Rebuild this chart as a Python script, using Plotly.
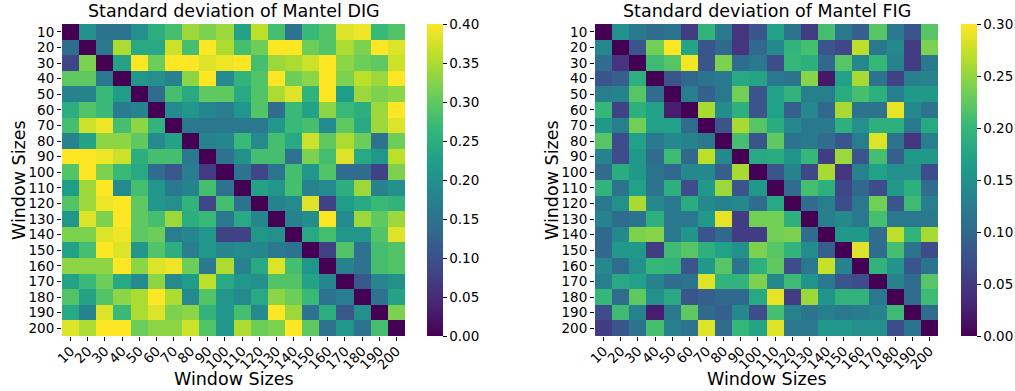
import plotly.graph_objects as go

window_sizes = [str(v) for v in range(10, 201, 10)]

dig_std = [
    [0, .20, .15, .15, .20, .25, .28, .34, .32, .34, .23, .36, .28, .15, .27, .29, .38, .39, .27, .29],
    [.14, 0, .16, .35, .24, .24, .37, .28, .40, .35, .28, .31, .40, .40, .31, .29, .35, .32, .40, .38],
    [.085, .32, 0, .23, .40, .31, .40, .40, .38, .39, .40, .28, .34, .35, .37, .40, .33, .31, .30, .37],
    [.30, .30, .16, 0, .21, .20, .18, .33, .40, .19, .26, .29, .40, .31, .33, .40, .32, .36, .34, .40],
    [.18, .18, .27, .22, 0, .14, .28, .24, .30, .30, .24, .29, .35, .38, .26, .40, .22, .34, .32, .33],
    [.25, .29, .27, .165, .18, 0, .19, .21, .185, .17, .21, .29, .14, .27, .23, .33, .27, .25, .34, .40],
    [.28, .37, .39, .28, .33, .26, 0, .16, .16, .16, .16, .16, .21, .27, .28, .19, .30, .24, .34, .38],
    [.18, .23, .33, .33, .30, .19, .23, 0, .18, .185, .27, .19, .28, .24, .37, .30, .35, .31, .15, .31],
    [.40, .40, .39, .37, .25, .28, .28, .16, 0, .15, .20, .28, .28, .15, .32, .28, .38, .24, .21, .36],
    [.29, .40, .32, .27, .24, .14, .11, .17, .07, 0, .15, .085, .155, .28, .21, .29, .14, .14, .08, .32],
    [.22, .34, .40, .19, .28, .21, .16, .18, .28, .15, 0, .23, .21, .28, .18, .19, .25, .34, .18, .20],
    [.29, .34, .39, .40, .30, .21, .20, .26, .085, .28, .15, 0, .18, .19, .38, .08, .22, .24, .27, .26],
    [.21, .38, .32, .40, .30, .28, .34, .25, .27, .16, .24, .185, 0, .18, .195, .40, .19, .34, .30, .34],
    [.32, .32, .38, .39, .30, .31, .17, .185, .21, .08, .08, .21, .20, 0, .24, .28, .21, .21, .29, .38],
    [.23, .28, .40, .38, .21, .29, .25, .17, .21, .185, .19, .185, .16, .15, 0, .08, .29, .15, .28, .29],
    [.33, .33, .33, .40, .33, .38, .39, .31, .16, .35, .18, .24, .38, .28, .21, 0, .18, .15, .28, .29],
    [.23, .27, .31, .24, .19, .33, .19, .22, .36, .24, .21, .20, .29, .29, .23, .185, 0, .11, .185, .20],
    [.29, .23, .29, .33, .35, .40, .35, .19, .29, .21, .19, .24, .33, .31, .27, .15, .17, 0, .15, .23],
    [.24, .18, .38, .27, .35, .38, .32, .33, .26, .21, .28, .19, .40, .34, .15, .25, .11, .20, 0, .32],
    [.38, .35, .40, .40, .31, .33, .33, .37, .29, .21, .35, .31, .32, .40, .30, .15, .21, .15, .28, 0],
]

fig_std = [
    [0, .15, .12, .105, .115, .055, .195, .12, .045, .08, .17, .115, .055, .21, .12, .09, .22, .12, .08, .22],
    [.14, 0, .08, .235, .30, .175, .08, .10, .045, .10, .14, .195, .21, .08, .065, .27, .12, .14, .055, .24],
    [.105, .045, 0, .205, .22, .295, .08, .24, .105, .12, .07, .20, .19, .10, .22, .14, .20, .135, .055, .12],
    [.08, .09, .19, 0, .08, .10, .115, .12, .18, .175, .12, .115, .245, .02, .17, .26, .115, .06, .13, .135],
    [.13, .135, .22, .105, 0, .13, .09, .12, .235, .08, .17, .195, .13, .13, .185, .21, .19, .13, .16, .16],
    [.20, .06, .19, .17, .025, 0, .26, .145, .19, .08, .17, .09, .14, .10, .26, .115, .115, .29, .14, .115],
    [.16, .13, .235, .17, .17, .105, 0, .08, .26, .22, .185, .14, .12, .12, .19, .15, .19, .19, .12, .18],
    [.22, .07, .17, .12, .14, .135, .12, 0, .21, .08, .225, .115, .12, .105, .08, .13, .285, .115, .045, .13],
    [.135, .07, .16, .105, .205, .10, .27, .14, 0, .18, .185, .155, .20, .055, .255, .08, .21, .09, .16, .16],
    [.105, .185, .16, .115, .10, .14, .14, .09, .26, 0, .08, .135, .065, .26, .045, .135, .17, .15, .15, .07],
    [.195, .115, .17, .115, .19, .07, .16, .255, .08, .16, 0, .105, .21, .19, .065, .10, .07, .16, .19, .105],
    [.12, .15, .26, .14, .12, .185, .14, .135, .14, .105, .18, 0, .105, .13, .07, .12, .235, .08, .205, .13],
    [.135, .105, .115, .19, .12, .12, .16, .29, .055, .235, .235, .19, 0, .13, .14, .12, .21, .12, .12, .12],
    [.10, .14, .24, .245, .12, .155, .08, .10, .055, .055, .235, .24, .105, 0, .16, .16, .105, .27, .195, .26],
    [.10, .16, .16, .055, .205, .22, .19, .17, .15, .24, .22, .195, .145, .09, 0, .285, .105, .21, .115, .07],
    [.14, .105, .15, .20, .195, .08, .16, .22, .115, .19, .225, .07, .12, .275, .135, 0, .195, .155, .08, .115],
    [.13, .18, .17, .135, .105, .115, .285, .195, .195, .24, .14, .205, .155, .12, .08, .07, 0, .135, .105, .22],
    [.20, .105, .225, .15, .18, .08, .09, .10, .10, .18, .29, .055, .255, .155, .195, .195, .12, 0, .105, .205],
    [.07, .205, .135, .025, .12, .225, .10, .09, .14, .07, .21, .135, .115, .13, .12, .125, .135, .205, 0, .105],
    [.055, .08, .115, .21, .13, .115, .285, .105, .20, .175, .285, .12, .12, .16, .16, .15, .15, .07, .115, 0],
]

titles = ["Standard deviation of Mantel DIG", "Standard deviation of Mantel FIG"]
zmaxes = [0.40, 0.30]
axis_title = "Window Sizes"

W, H = 1015, 391
FONT = "DejaVu Sans"

# pixel geometry
panels = [
    dict(x0=62, x1=405, cb=427),
    dict(x0=595, x1=938, cb=961),
]
py0, py1 = 24, 336

fig = go.Figure()
data_sets = [dig_std, fig_std]

for i, (p, z, zmax) in enumerate(zip(panels, data_sets, zmaxes)):
    xa = "x" if i == 0 else "x2"
    ya = "y" if i == 0 else "y2"
    ticks = [round(k * 0.05, 2) for k in range(int(round(zmax / 0.05)) + 1)]
    fig.add_trace(go.Heatmap(
        z=z, x=window_sizes, y=window_sizes,
        colorscale="Viridis", zmin=0, zmax=zmax,
        xaxis=xa, yaxis=ya,
        colorbar=dict(
            x=p["cb"] / W, xanchor="left", xref="paper", xpad=0, ypad=0,
            y=1 - (py0 + py1) / 2 / H, yanchor="middle",
            len=py1 - py0, lenmode="pixels", thickness=16, thicknessmode="pixels",
            outlinewidth=0, ticks="outside", ticklen=4, tickcolor="black",
            tickvals=ticks, tickformat=".2f",
            tickfont=dict(family=FONT, size=13.5, color="black"),
        ),
    ))

axis_common = dict(
    type="category", showgrid=False, zeroline=False, ticks="outside",
    ticklen=4, tickcolor="black", showline=False, automargin=False,
    tickmode="array", tickvals=window_sizes, ticktext=window_sizes,
    tickfont=dict(family=FONT, size=13.5, color="black"),
)
ydom = [1 - py1 / H, 1 - py0 / H]
fig.update_layout(
    width=W, height=H, margin=dict(l=0, r=0, t=0, b=0, autoexpand=False),
    paper_bgcolor="white", plot_bgcolor="white",
    xaxis=dict(domain=[panels[0]["x0"] / W, panels[0]["x1"] / W], anchor="y",
               tickangle=-45, ticklabelstandoff=-3, **axis_common),
    yaxis=dict(domain=ydom, anchor="x", autorange="reversed", **axis_common),
    xaxis2=dict(domain=[panels[1]["x0"] / W, panels[1]["x1"] / W], anchor="y2",
                tickangle=-45, ticklabelstandoff=-3, **axis_common),
    yaxis2=dict(domain=ydom, anchor="x2", autorange="reversed", **axis_common),
    showlegend=False,
)

ann = []
for i, p in enumerate(panels):
    cx = (p["x0"] + p["x1"]) / 2 / W
    ann.append(dict(text=titles[i], x=cx, y=1 - 11 / H, xref="paper", yref="paper",
                    showarrow=False, xanchor="center", yanchor="middle",
                    font=dict(family=FONT, size=17.5, color="black")))
    ann.append(dict(text=axis_title, x=cx, y=1 - 379 / H, xref="paper", yref="paper",
                    showarrow=False, xanchor="center", yanchor="middle",
                    font=dict(family=FONT, size=17.5, color="black")))
    ann.append(dict(text=axis_title, x=(p["x0"] - 43) / W, y=1 - (py0 + py1) / 2 / H,
                    xref="paper", yref="paper", textangle=-90,
                    showarrow=False, xanchor="center", yanchor="middle",
                    font=dict(family=FONT, size=17.5, color="black")))
fig.update_layout(annotations=ann)

fig.write_html(
    "out.html",
    config={"displayModeBar": False},
    post_script="document.body.style.margin='0';document.body.style.overflow='hidden';",
)
